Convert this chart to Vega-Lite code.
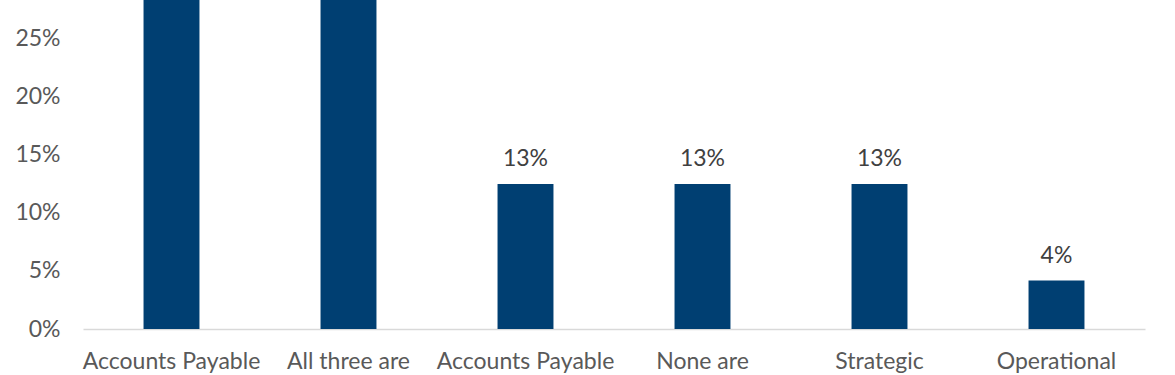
{
  "$schema": "https://vega.github.io/schema/vega-lite/v6.json",
  "autosize": {"type": "none"},
  "width": 1062,
  "height": 329,
  "padding": {"left": 83, "top": 0, "right": 30, "bottom": 46},
  "background": "white",
  "config": {
    "view": {"stroke": null},
    "font": "Lato"
  },
  "data": {
    "values": [
      {"category": "Accounts Payable|1", "share": 0.2917},
      {"category": "All three are|2", "share": 0.2917},
      {"category": "Accounts Payable|3", "share": 0.125},
      {"category": "None are|4", "share": 0.125},
      {"category": "Strategic|5", "share": 0.125},
      {"category": "Operational|6", "share": 0.0417}
    ]
  },
  "encoding": {
    "x": {
      "field": "category",
      "type": "nominal",
      "sort": null,
      "scale": {"paddingInner": 0.684, "paddingOuter": 0.342},
      "axis": {
        "title": null,
        "labelAngle": 0,
        "labelExpr": "split(datum.value, '|')[0]",
        "labelFont": "Lato",
        "labelFontSize": 23,
        "labelColor": "#595959",
        "labelPadding": 21,
        "ticks": false,
        "domainColor": "#d9d9d9",
        "domainWidth": 1.5,
        "grid": false
      }
    },
    "y": {
      "field": "share",
      "type": "quantitative",
      "scale": {"domain": [0, 0.2836], "nice": false, "zero": true},
      "axis": {
        "title": null,
        "format": ".0%",
        "values": [0, 0.05, 0.1, 0.15, 0.2, 0.25],
        "labelFont": "Lato",
        "labelFontSize": 23,
        "labelColor": "#595959",
        "labelPadding": 23,
        "ticks": false,
        "domain": false,
        "grid": false
      }
    }
  },
  "layer": [
    {"mark": {"type": "bar", "color": "#003f72"}},
    {
      "transform": [{"filter": "datum.share < 0.28"}],
      "mark": {"type": "text", "baseline": "alphabetic", "dy": -18, "fontSize": 23, "color": "#404040", "font": "Lato"},
      "encoding": {"text": {"field": "share", "type": "quantitative", "format": ".0%"}}
    }
  ]
}
